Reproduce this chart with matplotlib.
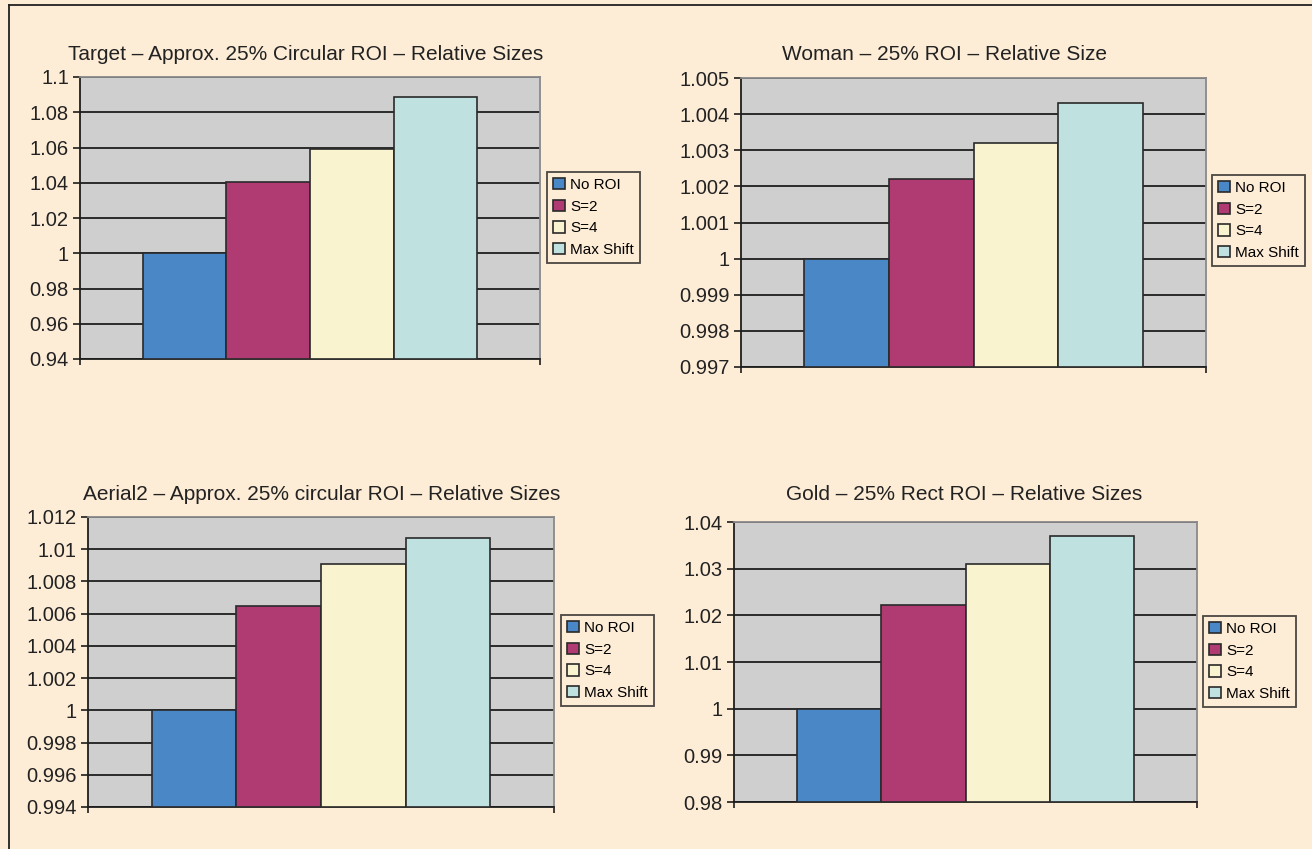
import matplotlib
matplotlib.use("Agg")
import matplotlib.pyplot as plt
import numpy as np
from matplotlib.lines import Line2D
from matplotlib.ticker import FuncFormatter

plt.rcParams['font.family'] = ['Liberation Sans', 'DejaVu Sans']

# --- data ---
series = ["No ROI", "S=2", "S=4", "Max Shift"]
colors = ["#4a87c7", "#b03a72", "#f9f3cf", "#bfe1e0"]

titles = [
    "Target \u2013 Approx. 25% Circular ROI \u2013 Relative Sizes",
    "Woman \u2013 25% ROI \u2013 Relative Size",
    "Aerial2 \u2013 Approx. 25% circular ROI \u2013 Relative Sizes",
    "Gold \u2013 25% Rect ROI \u2013 Relative Sizes",
]
target_vals = [1.0, 1.0405, 1.059, 1.0885]
woman_vals = [1.0, 1.0022, 1.0032, 1.0043]
aerial2_vals = [1.0, 1.0065, 1.0091, 1.0107]
gold_vals = [1.0, 1.0223, 1.0309, 1.0369]

target_ticks = [0.94, 0.96, 0.98, 1.0, 1.02, 1.04, 1.06, 1.08, 1.1]
woman_ticks = [0.997, 0.998, 0.999, 1.0, 1.001, 1.002, 1.003, 1.004, 1.005]
aerial2_ticks = [0.994, 0.996, 0.998, 1.0, 1.002, 1.004, 1.006, 1.008, 1.01, 1.012]
gold_ticks = [0.98, 0.99, 1.0, 1.01, 1.02, 1.03, 1.04]

W, H = 1312, 849
fig = plt.figure(figsize=(W / 100, H / 100), dpi=100)
fig.patch.set_facecolor("#fdecd6")

# pixel layout: (left, right, top, bottom), title center, legend top-left
panels = [
    (target_vals, target_ticks, (80, 540, 77, 359), (306, 55), (547, 172)),
    (woman_vals, woman_ticks, (741, 1206, 78, 367), (945, 55), (1212, 175)),
    (aerial2_vals, aerial2_ticks, (88, 554, 517, 807), (322, 494), (561, 615)),
    (gold_vals, gold_ticks, (734, 1197, 522, 802), (964, 494), (1203, 616)),
]

fmt = FuncFormatter(lambda v, p: f"{v:g}")

for i, (vals, ticks, box, tpos, lpos) in enumerate(panels):
    l, r, t, b = box
    ax = fig.add_axes([l / W, 1 - b / H, (r - l) / W, (b - t) / H])
    ax.set_facecolor("#cfcfcf")

    x = np.arange(len(vals)) + 1.25
    bars = ax.bar(x, [v - ticks[0] for v in vals], bottom=ticks[0], width=1.0,
                  color=colors, edgecolor="#2a2a2a", linewidth=1.2, zorder=3)
    ax.set_xlim(0, 5.5)
    ax.set_ylim(ticks[0], ticks[-1])
    ax.set_yticks(ticks)
    ax.yaxis.set_major_formatter(fmt)
    # only the two end marks on the category axis
    ax.set_xticks([0, 5.5])
    ax.set_xticklabels([])
    ax.tick_params(axis="x", direction="out", length=4, width=1.2, colors="#1e1e1e")

    ax.set_axisbelow(True)
    ax.yaxis.grid(True, color="#1e1e1e", linewidth=1.3)
    ax.tick_params(axis="y", direction="out", length=5, width=1.2,
                   labelsize=14.5, pad=3, colors="#1e1e1e")
    ax.tick_params(axis="y", labelcolor="#222222")

    for side in ("left", "bottom"):
        ax.spines[side].set_color("#1e1e1e")
        ax.spines[side].set_linewidth(1.3)
    for side in ("top", "right"):
        ax.spines[side].set_color("#8a8a8a")
        ax.spines[side].set_linewidth(1.3)

    fig.text(tpos[0] / W, 1 - tpos[1] / H, titles[i], ha="center", va="center",
             fontsize=15, color="#222222")

    leg = ax.legend(bars, series, loc="upper left",
                    bbox_to_anchor=(lpos[0] / W, 1 - lpos[1] / H),
                    bbox_transform=fig.transFigure, fontsize=11,
                    handlelength=0.75, handleheight=0.75, handletextpad=0.35,
                    labelspacing=0.5, borderpad=0.4, borderaxespad=0,
                    fancybox=False, frameon=True)
    leg.get_frame().set_edgecolor("#1e1e1e")
    leg.get_frame().set_linewidth(1.3)
    leg.get_frame().set_facecolor("#fdecd6")

# outer frame (top and left edges)
fig.add_artist(Line2D([9 / W, 9 / W], [0, 1 - 5 / H], transform=fig.transFigure,
                      color="#222222", linewidth=1.3))
fig.add_artist(Line2D([9 / W, 1], [1 - 5 / H, 1 - 5 / H], transform=fig.transFigure,
                      color="#222222", linewidth=1.3))

fig.savefig("out.png", dpi=100, facecolor=fig.get_facecolor())
